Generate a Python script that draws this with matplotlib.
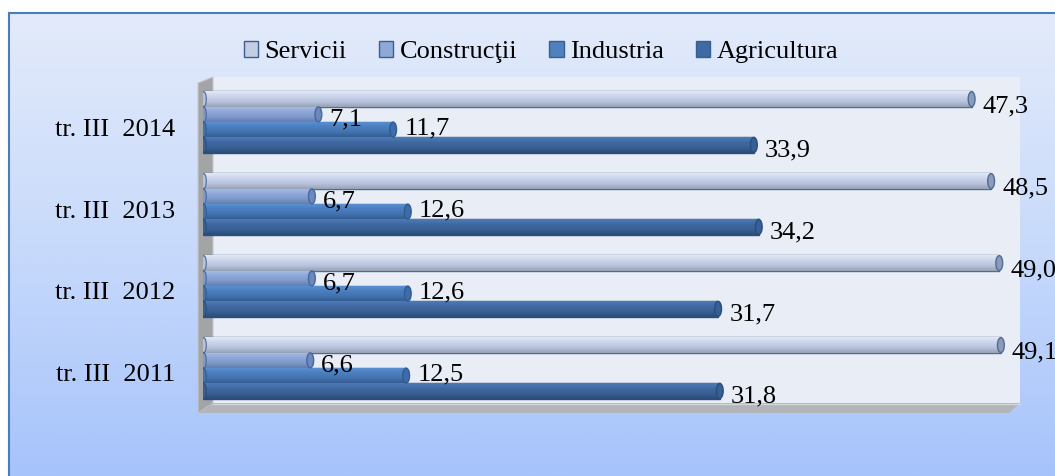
import numpy as np
import matplotlib
matplotlib.use("Agg")
import matplotlib.pyplot as plt
from matplotlib.patches import Polygon, Ellipse, Patch
from matplotlib.colors import LinearSegmentedColormap
from matplotlib.transforms import ScaledTranslation

plt.rcParams['font.family'] = ['Liberation Serif', 'DejaVu Serif']

# ---------------- data ----------------
categories = ["tr. III  2011", "tr. III  2012", "tr. III  2013", "tr. III  2014"]
series = ["Servicii", "Construcţii", "Industria", "Agricultura"]
servicii = [49.1, 49.0, 48.5, 47.3]
constructii = [6.6, 6.7, 6.7, 7.1]
industria = [12.5, 12.6, 12.6, 11.7]
agricultura = [31.8, 31.7, 34.2, 33.9]
values = [servicii, constructii, industria, agricultura]

# ---------------- styles ----------------
grad_colors = [
    ["#E2E8F4", "#CAD5EC", "#B7C3DB", "#97A1B6"],   # Servicii
    ["#A8BFE6", "#8FA9DA", "#7F99CB", "#647DAE"],   # Construcţii
    ["#5E93D3", "#4C80C1", "#4474B0", "#345D94"],   # Industria
    ["#4C7BB6", "#4069A2", "#395F93", "#2A4C78"],   # Agricultura
]
edge_colors = ["#4D6C98", "#46689A", "#335C8E", "#2B4E7C"]
legend_colors = ["#C3CEE3", "#8EA9D8", "#4F81BD", "#3E6BA4"]
cap_colors = ["#8E9BB6", "#6D88BE", "#3D6CAA", "#365F96"]
label_dy_px = [7, 5, -1, 6]
h = 0.186
fs = 19

W, H = 1055, 476
fig = plt.figure(figsize=(W / 100, H / 100), dpi=100)

# background / frame / walls (pixel coordinates)
bg = fig.add_axes([0, 0, 1, 1])
bg.set_xlim(0, W)
bg.set_ylim(H, 0)
bg.axis('off')
bg_cmap = LinearSegmentedColormap.from_list("bg", ["#E3EBFA", "#C8DAFB", "#A6C3FB"])
bg.imshow(np.linspace(0, 1, 256).reshape(-1, 1), extent=[9, W, H, 13],
          aspect='auto', cmap=bg_cmap, zorder=0)
bg.plot([9, W], [13, 13], color="#4A7EBB", lw=1.5, zorder=2)
bg.plot([9, 9], [13, H], color="#4A7EBB", lw=1.5, zorder=2)
bg.add_patch(Polygon([(213, 77), (1020, 77), (1020, 403), (213, 403)],
                     closed=True, fc="#E9EDF5", ec="none", zorder=1))
bg.add_patch(Polygon([(198, 83), (213, 77), (213, 403), (198, 413)],
                     closed=True, fc="#A3A4A6", ec="#C5C7CA", lw=0.8, zorder=1))
bg.add_patch(Polygon([(198, 413), (213, 403), (1020, 403), (1009, 413)],
                     closed=True, fc="#B3B5B9", ec="none", zorder=1))
bg.plot([213, 1020], [403.5, 403.5], color="#D4D7DC", lw=1, zorder=1)
bg.set_xlim(0, W)
bg.set_ylim(H, 0)

# main axes
x0_px, x1_px, top_px, bot_px = 203, 1020, 77, 413
scale = 16.25
ax = fig.add_axes([x0_px / W, 1 - bot_px / H, (x1_px - x0_px) / W, (bot_px - top_px) / H])
ax.patch.set_alpha(0)
for s in ax.spines.values():
    s.set_visible(False)

ypos = np.arange(len(categories))
offsets = [1.5 * h, 0.5 * h, -0.5 * h, -1.5 * h]

for si, (name, vals) in enumerate(zip(series, values)):
    yy = ypos + offsets[si]
    bars = ax.barh(yy, vals, height=h, color=grad_colors[si][1],
                   edgecolor=edge_colors[si], linewidth=1.0, zorder=3)
    cmap = LinearSegmentedColormap.from_list("c%d" % si, grad_colors[si])
    for b, v, y in zip(bars, vals, yy):
        im = ax.imshow(np.linspace(0, 1, 64).reshape(-1, 1),
                       extent=[0, v, y - h / 2, y + h / 2], origin='upper',
                       aspect='auto', cmap=cmap, zorder=3.5)
        im.set_clip_path(b)
        ax.add_patch(Ellipse((v, y), width=0.42, height=h * 0.98,
                             fc=cap_colors[si], ec=edge_colors[si], lw=1.0, zorder=4))
        ax.add_patch(Ellipse((0.05, y), width=0.3, height=h * 0.98,
                             fc=grad_colors[si][2], ec=edge_colors[si], lw=0.8, zorder=4))
        ax.annotate(f"{v:.1f}".replace('.', ','), xy=(v, y),
                    xytext=(8, -label_dy_px[si] * 0.72), textcoords='offset points',
                    ha='left', va='center', fontsize=fs, color='black', zorder=6)

ax.set_xlim(0, (x1_px - x0_px) / scale)
ax.set_ylim(-0.5488, 3.5488)
ax.set_xticks([])
ax.set_yticks(ypos)
ax.set_yticklabels(categories, fontsize=fs)
ax.tick_params(axis='y', length=0, pad=20)
for lab in ax.get_yticklabels():
    lab.set_transform(lab.get_transform() + ScaledTranslation(0, -0.05, fig.dpi_scale_trans))

handles = [Patch(facecolor=legend_colors[i], edgecolor="#3A5F8E", linewidth=1.0, label=series[i])
           for i in range(4)]
fig.legend(handles=handles, loc='center', bbox_to_anchor=(541 / W, 1 - 52 / H), ncol=4,
           frameon=False, fontsize=fs, handlelength=0.55, handleheight=0.55,
           handletextpad=0.25, columnspacing=1.2, borderpad=0.2)

fig.savefig("out.png", dpi=100)
